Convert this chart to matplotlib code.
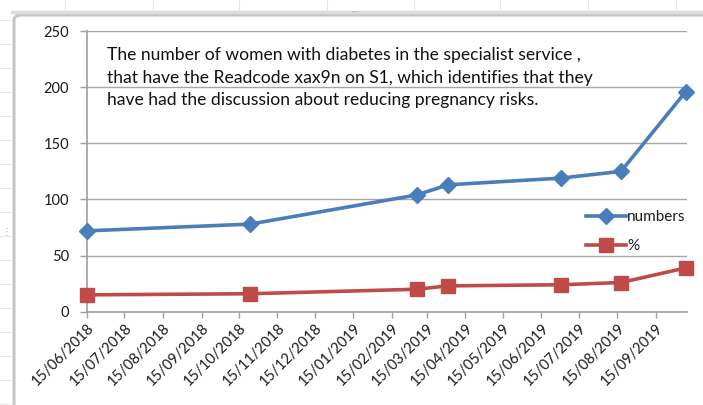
import matplotlib
matplotlib.use("Agg")
import matplotlib.pyplot as plt
import matplotlib.dates as mdates
from matplotlib.patches import FancyBboxPatch
from matplotlib.lines import Line2D
import pandas as pd

# Survey dates and series values
dates = pd.to_datetime([
    "2018-06-15", "2018-10-24", "2019-03-07", "2019-04-01",
    "2019-07-01", "2019-08-18", "2019-10-09",
])
numbers = [72, 78, 104, 113, 119, 125, 196]
percent = [15, 16, 20, 23, 24, 26, 39]

series_labels = ["numbers", "%"]
y_ticks = [0, 50, 100, 150, 200, 250]
x_ticks = pd.date_range("2018-06-01", "2019-09-01", freq="MS") + pd.Timedelta(days=14)
note = ("The number of women with diabetes in the specialist service ,\n"
        "that have the Readcode xax9n on S1, which identifies that they\n"
        "have had the discussion about reducing pregnancy risks.")

plt.rcParams["font.family"] = ["Lato", "DejaVu Sans"]

W, H = 703, 405
fig = plt.figure(figsize=(W / 100, H / 100), dpi=100)
fig.patch.set_facecolor("white")

# spreadsheet cell lines behind the chart object
for xv in [65, 153, 239, 327, 414, 500, 588, 676]:
    fig.add_artist(Line2D([xv / W, xv / W], [1, (H - 12) / H], color="#e6e6e6", lw=0.8))
for yv in range(20, 405, 24):
    fig.add_artist(Line2D([0, 10 / W], [1 - yv / H, 1 - yv / H], color="#e6e6e6", lw=0.8))

# chart object frame
frame = FancyBboxPatch((14 / W, -0.1), 1.0, (H - 15) / H + 0.1,
                       boxstyle="round,pad=0,rounding_size=0.012",
                       transform=fig.transFigure, facecolor="white",
                       edgecolor="#c6c6c6", lw=2.2, zorder=0)
fig.add_artist(frame)
fig.add_artist(Line2D([12 / W, 1], [1 - 12 / H, 1 - 12 / H], color="#dcdcdc", lw=2.5, zorder=0))
fig.text(355 / W, 1 - 12 / H, "····", ha="center", va="center", fontsize=5, color="#b0b0b0")
fig.text(7 / W, 1 - 232 / H, "⋮", ha="center", va="center", fontsize=7, color="#b0b0b0",
         family="DejaVu Sans")

left, right = 87 / W, 687 / W
bottom, top = (H - 311.7) / H, (H - 31) / H
ax = fig.add_axes([left, bottom, right - left, top - bottom])
ax.set_facecolor("none")

ax.plot(dates, numbers, color="#4A7EBB", lw=2.6, marker="D", markersize=8,
        label=series_labels[0], zorder=3, clip_on=False)
ax.plot(dates, percent, color="#BE4B48", lw=2.6, marker="s", markersize=10,
        label=series_labels[1], zorder=3, clip_on=False)

ax.set_ylim(0, 250)
ax.set_yticks(y_ticks)
ax.set_xlim(pd.Timestamp("2018-06-15"), pd.Timestamp("2019-10-10"))
ax.set_xticks(x_ticks)
ax.xaxis.set_major_formatter(mdates.DateFormatter("%d/%m/%Y"))

ax.grid(axis="y", color="#a6a6a6", lw=1.0)
ax.set_axisbelow(True)
for s in ["top", "right"]:
    ax.spines[s].set_visible(False)
for s in ["left", "bottom"]:
    ax.spines[s].set_color("#a0a0a0")
    ax.spines[s].set_linewidth(1.2)

ax.tick_params(axis="y", length=5, width=1, color="#a0a0a0", labelsize=10.5,
               labelcolor="#1a1a1a", pad=8)
ax.tick_params(axis="x", length=4, width=1, color="#a0a0a0", labelsize=10.5,
               labelcolor="#1a1a1a", pad=3)
for lbl in ax.get_xticklabels():
    lbl.set_rotation(45)
    lbl.set_ha("right")
    lbl.set_rotation_mode("anchor")

fig.text(107 / W, 1 - 47 / H, note, ha="left", va="top", fontsize=12.6,
         color="#111111", linespacing=1.5)

leg = ax.legend(loc="upper left", bbox_to_anchor=(586 / W, 1 - 210 / H),
                bbox_transform=fig.transFigure, frameon=False, fontsize=11,
                handlelength=2.6, handletextpad=0.1, labelspacing=1.0,
                borderpad=0, borderaxespad=0)
for t in leg.get_texts():
    t.set_color("#1a1a1a")

fig.savefig("out.png", dpi=100, facecolor="white")
